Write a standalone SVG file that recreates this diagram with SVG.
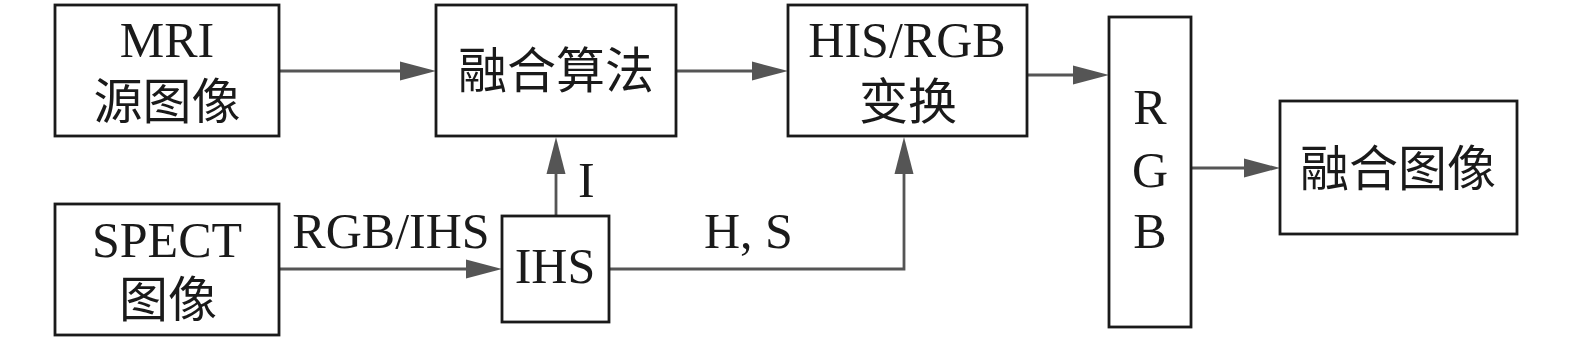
<svg xmlns="http://www.w3.org/2000/svg" width="1575" height="341" viewBox="0 0 1575 341">
<style>
.box{fill:#fff;stroke:#1a1a1a;stroke-width:2.8}
.t{font-family:"Liberation Serif","Noto Sans CJK SC",serif;font-size:50px;fill:#1a1a1a;text-anchor:middle}
.c{font-family:"Liberation Serif","Noto Sans CJK SC",serif;font-size:49px;fill:#1a1a1a;text-anchor:middle}
.l{font-family:"Liberation Serif",serif;font-size:50px;fill:#1a1a1a}
.ln{fill:none;stroke:#555;stroke-width:2.8}
.ah{fill:#555}
</style>
<rect width="1575" height="341" fill="#fff"/>
<g id="connectors">
<line class="ln" x1="279" y1="71" x2="402" y2="71"/>
<polygon class="ah" points="400,61.5 436,71 400,80.5"/>
<line class="ln" x1="676" y1="71" x2="754" y2="71"/>
<polygon class="ah" points="752,61.5 788,71 752,80.5"/>
<line class="ln" x1="1027" y1="75" x2="1075" y2="75"/>
<polygon class="ah" points="1073,65.5 1109,75 1073,84.5"/>
<line class="ln" x1="1191" y1="168" x2="1246" y2="168"/>
<polygon class="ah" points="1244,158.5 1280,168 1244,177.5"/>
<line class="ln" x1="279" y1="269" x2="468" y2="269"/>
<polygon class="ah" points="466,259.5 502,269 466,278.5"/>
<line class="ln" x1="556" y1="216" x2="556" y2="172"/>
<polygon class="ah" points="546.5,174 556,137 565.5,174"/>
<polyline class="ln" points="609,269 904,269 904,172"/>
<polygon class="ah" points="894.5,174 904,137 913.5,174"/>
<text class="l" x="391" y="248" text-anchor="middle">RGB/IHS</text>
<text class="l" x="578" y="197">I</text>
<text class="l" x="704" y="248">H, S</text>
</g>
<g id="mri">
<rect class="box" x="55" y="5" width="224" height="131"/>
<text class="t" x="167" y="57">MRI</text>
<text class="c" x="167" y="119">源图像</text>
</g>
<g id="fusion-algorithm">
<rect class="box" x="436" y="5" width="240" height="131"/>
<text class="c" x="556" y="88">融合算法</text>
</g>
<g id="his-rgb">
<rect class="box" x="788" y="5" width="239" height="131"/>
<text class="t" x="907" y="57">HIS/RGB</text>
<text class="c" x="908" y="119">变换</text>
</g>
<g id="rgb">
<rect class="box" x="1109" y="17" width="82" height="310"/>
<text class="t" x="1150" y="124">R</text>
<text class="t" x="1150" y="187">G</text>
<text class="t" x="1150" y="248">B</text>
</g>
<g id="fused-image">
<rect class="box" x="1280" y="101" width="237" height="133"/>
<text class="c" x="1398" y="186">融合图像</text>
</g>
<g id="spect">
<rect class="box" x="55" y="204" width="224" height="131"/>
<text class="t" x="167" y="257">SPECT</text>
<text class="c" x="168" y="317">图像</text>
</g>
<g id="ihs">
<rect class="box" x="502" y="216" width="107" height="106"/>
<text class="t" x="555" y="283">IHS</text>
</g>
</svg>
